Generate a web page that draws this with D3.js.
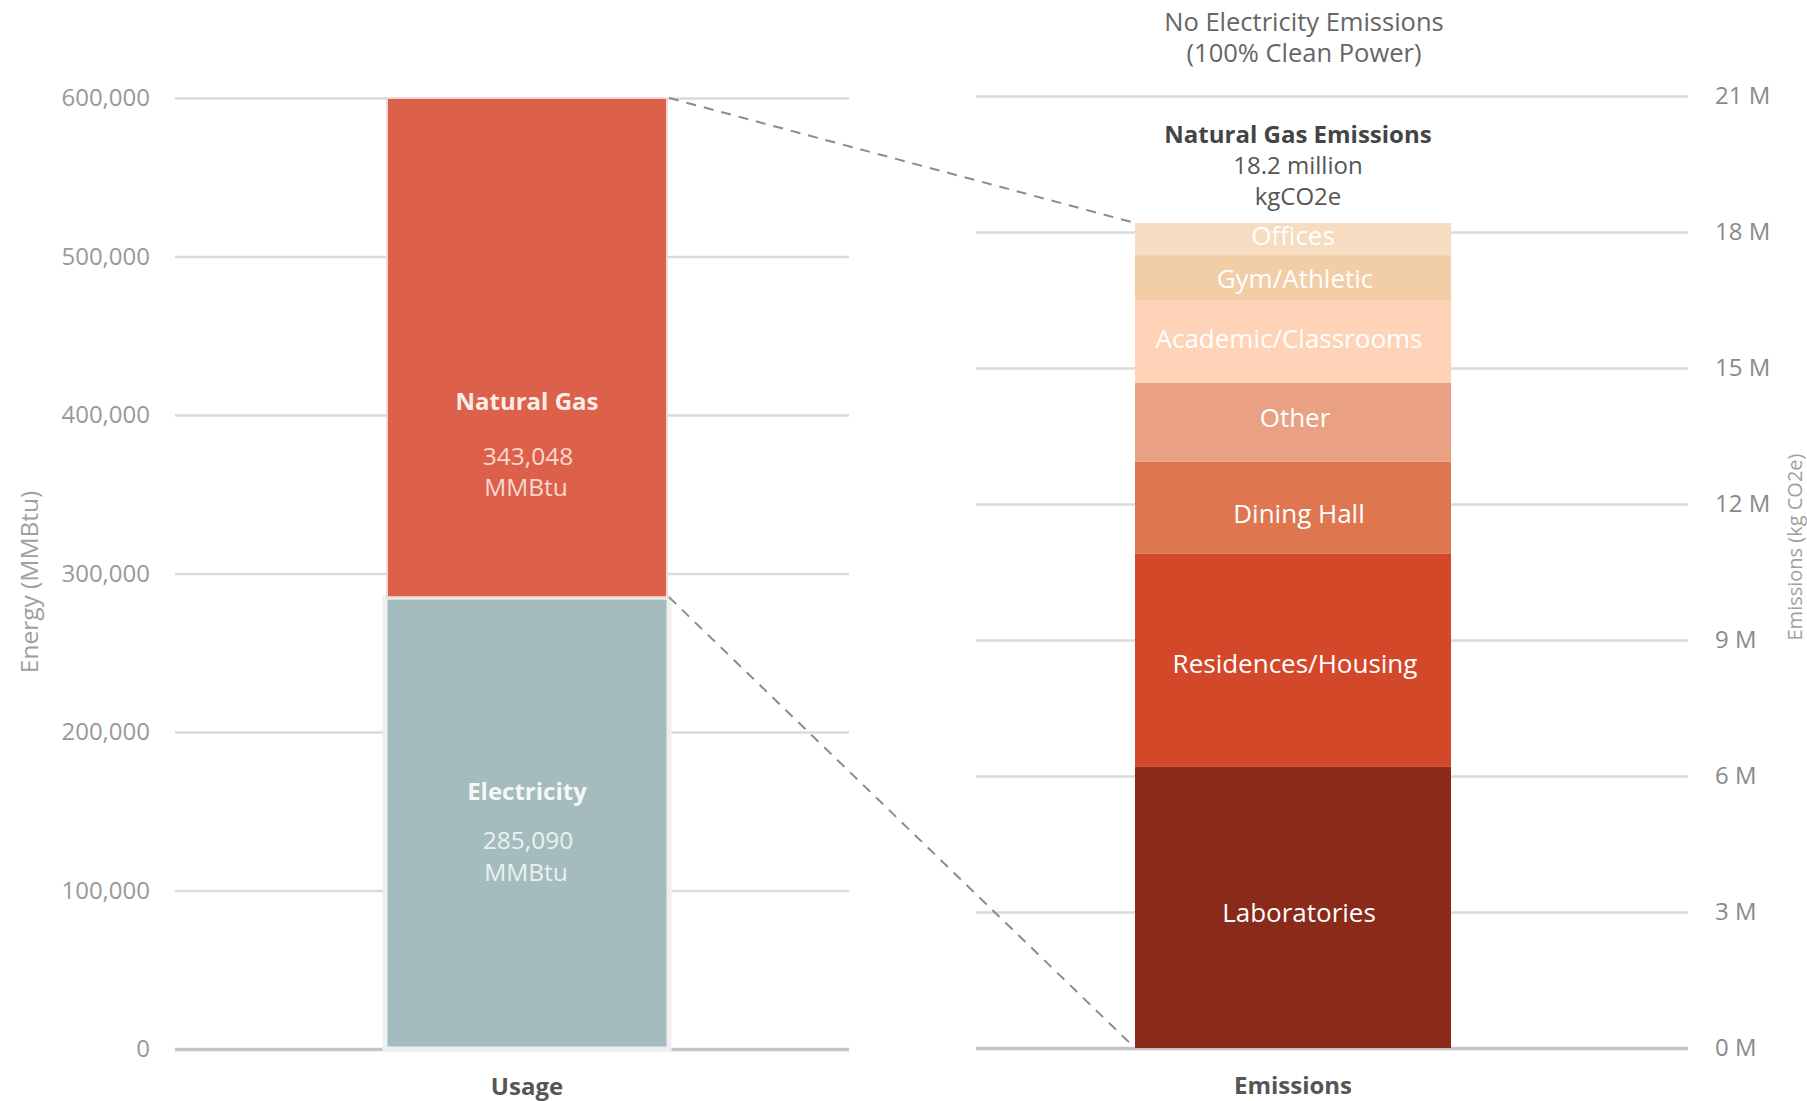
<!DOCTYPE html>
<html>
<head>
<meta charset="utf-8">
<script src="https://cdn.jsdelivr.net/npm/d3@7"></script>
<style>
  html, body { margin: 0; padding: 0; background: #fff; }
  svg { display: block; font-family: "Segoe UI", "Open Sans", sans-serif; }
</style>
</head>
<body>
<svg id="chart" width="1807" height="1101"></svg>
<script>
// ---------- data ----------
const usageCategories = ["Electricity", "Natural Gas"];
const usageValues = [285090, 343048];
const usageUnit = "MMBtu";
const energyTicks = [0, 100000, 200000, 300000, 400000, 500000, 600000];

const emissionCategories = ["Laboratories", "Residences/Housing", "Dining Hall", "Other",
  "Academic/Classrooms", "Gym/Athletic", "Offices"];
const emissionValues = [6200000, 4700000, 2030000, 1740000, 1830000, 990000, 710000];
const emissionTicks = [0, 3e6, 6e6, 9e6, 12e6, 15e6, 18e6, 21e6];
const electricityEmissionNote = ["No Electricity Emissions", "(100% Clean Power)"];
const gasEmissionTitle = "Natural Gas Emissions";

// ---------- styles ----------
const usageColors = { "Electricity": "#a4bcbd", "Natural Gas": "#dc604a" };
const emissionColors = ["#892a1b", "#d4482a", "#de7650", "#eaa082", "#fed3b8", "#f1cea5", "#f6dcc0"];
const emLabelShift = { "Laboratories": [6, 5], "Residences/Housing": [2, 3], "Dining Hall": [6, 6],
  "Other": [2, -5], "Academic/Classrooms": [-4, -3], "Gym/Athletic": [2, 1], "Offices": [0, -3] };

const svg = d3.select("#chart");
const FONT = 24;

// ---------- scales ----------
const yLeft = d3.scaleLinear().domain([0, 600000]).range([1049, 98]).clamp(true);
const yRight = d3.scaleLinear().domain([0, 21e6]).range([1048, 96]);
const xLeft = d3.scaleBand().domain(["Usage"]).range([190, 864]).paddingInner(0).paddingOuter(0.7036);
const xRight = d3.scaleBand().domain(["Emissions"]).range([976, 1610]).paddingInner(0).paddingOuter(0.5032);

// ---------- left axis / grid ----------
const gridL0 = 175, gridL1 = 849;
const axL = svg.append("g").attr("transform", `translate(${gridL0},0)`)
  .call(d3.axisLeft(yLeft).tickValues(energyTicks).tickFormat(d3.format(","))
    .tickSize(-(gridL1 - gridL0)).tickPadding(25));
axL.select(".domain").remove();
axL.selectAll(".tick line").attr("stroke", d => d === 0 ? "#c4c4c4" : "#dadada").attr("stroke-width", d => d === 0 ? 3.5 : 2.5);
axL.selectAll(".tick text").attr("fill", "#999").attr("font-size", FONT).attr("font-family", "'Segoe UI','Open Sans',sans-serif");

// ---------- right axis / grid ----------
const gridR0 = 976, gridR1 = 1688;
const axR = svg.append("g").attr("transform", `translate(${gridR1},0)`)
  .call(d3.axisRight(yRight).tickValues(emissionTicks).tickFormat(d => (d / 1e6) + " M")
    .tickSize(-(gridR1 - gridR0)).tickPadding(27));
axR.select(".domain").remove();
axR.selectAll(".tick line").attr("stroke", d => d === 0 ? "#c4c4c4" : "#dadada").attr("stroke-width", d => d === 0 ? 3.5 : 2.5);
axR.selectAll(".tick text").attr("fill", "#8a8a8a").attr("font-size", FONT).attr("font-family", "'Segoe UI','Open Sans',sans-serif");

// ---------- left stacked bar ----------
let acc = 0;
const usageStack = usageCategories.map((c, i) => {
  const s = { cat: c, v: usageValues[i], y0: acc, y1: acc + usageValues[i] };
  acc += usageValues[i];
  return s;
});
const bx = xLeft("Usage"), bw = xLeft.bandwidth();
svg.append("g").selectAll("rect").data(usageStack).join("rect")
  .attr("x", d => d.cat === "Electricity" ? bx - 2 : bx)
  .attr("width", d => d.cat === "Electricity" ? bw + 4 : bw)
  .attr("y", d => yLeft(d.y1))
  .attr("height", d => yLeft(d.y0) - yLeft(d.y1))
  .attr("fill", d => usageColors[d.cat])
  .attr("stroke", d => d.cat === "Electricity" ? "#eef0f0" : "#ead9d4")
  .attr("stroke-width", d => d.cat === "Electricity" ? 5 : 2);

// left bar labels
const gasSeg = usageStack[1], elecSeg = usageStack[0];
const cx = bx + bw / 2;
function barLabel(seg, yName, dv, du, nameFill, valFill) {
  const g = svg.append("g").attr("text-anchor", "middle").attr("font-size", FONT);
  g.append("text").attr("x", cx).attr("y", yName).attr("dy", "0.35em")
    .attr("font-weight", "bold").attr("fill", nameFill).text(seg.cat);
  g.append("text").attr("x", cx + 1).attr("y", yName + dv).attr("dy", "0.35em")
    .attr("font-size", 24.5).attr("fill", valFill).text(d3.format(",")(seg.v));
  g.append("text").attr("x", cx - 1).attr("y", yName + du).attr("dy", "0.35em")
    .attr("font-size", 24.5).attr("fill", valFill).text(usageUnit);
}
barLabel(gasSeg, yLeft(gasSeg.y0) - 196, 55, 86, "#fbeee9", "#f9d8ce");
barLabel(elecSeg, yLeft(elecSeg.y1) + 194, 49, 81, "#f4f8f8", "#eaf1f1");

// ---------- right stacked bar ----------
acc = 0;
const emStack = emissionCategories.map((c, i) => {
  const s = { cat: c, v: emissionValues[i], y0: acc, y1: acc + emissionValues[i], color: emissionColors[i] };
  acc += emissionValues[i];
  return s;
});
const total = acc;
const rx = xRight("Emissions"), rw = xRight.bandwidth();
svg.append("g").selectAll("rect").data(emStack).join("rect")
  .attr("x", rx).attr("width", rw)
  .attr("y", d => yRight(d.y1))
  .attr("height", d => yRight(d.y0) - yRight(d.y1))
  .attr("fill", d => d.color);
svg.append("g").attr("text-anchor", "middle").attr("font-size", 26).attr("fill", "#fff")
  .selectAll("text").data(emStack).join("text")
  .attr("x", d => rx + rw / 2 + emLabelShift[d.cat][0])
  .attr("y", d => (yRight(d.y0) + yRight(d.y1)) / 2 + emLabelShift[d.cat][1])
  .attr("dy", "0.35em")
  .text(d => d.cat);

// ---------- connectors ----------
const conn = svg.append("g").attr("stroke", "#8c8c8c").attr("stroke-width", 2).attr("stroke-dasharray", "10,8").attr("fill", "none");
conn.append("line")
  .attr("x1", bx + bw + 2).attr("y1", yLeft(gasSeg.y1))
  .attr("x2", rx).attr("y2", yRight(total));
conn.append("line")
  .attr("x1", bx + bw + 2).attr("y1", yLeft(elecSeg.y1))
  .attr("x2", rx).attr("y2", yRight(0));

// ---------- emission annotations ----------
const rcx = rx + rw / 2 + 5;
const ann = svg.append("g").attr("text-anchor", "middle").attr("font-size", FONT);
ann.append("text").attr("x", rcx + 6).attr("y", 22).attr("dy", "0.35em").attr("font-size", 25.5).attr("fill", "#666").text(electricityEmissionNote[0]);
ann.append("text").attr("x", rcx + 6).attr("y", 53).attr("dy", "0.35em").attr("font-size", 25.5).attr("fill", "#666").text(electricityEmissionNote[1]);
ann.append("text").attr("x", rcx).attr("y", yRight(total) - 88).attr("dy", "0.35em")
  .attr("font-weight", "bold").attr("fill", "#444").text(gasEmissionTitle);
ann.append("text").attr("x", rcx).attr("y", yRight(total) - 57).attr("dy", "0.35em")
  .attr("fill", "#555").text(d3.format(".1f")(total / 1e6) + " million");
ann.append("text").attr("x", rcx).attr("y", yRight(total) - 26).attr("dy", "0.35em")
  .attr("fill", "#555").text("kgCO2e");

// ---------- axis titles ----------
svg.append("text").attr("text-anchor", "middle").attr("font-size", FONT).attr("font-weight", "bold")
  .attr("fill", "#555").attr("x", cx).attr("y", 1087).attr("dy", "0.35em").text("Usage");
svg.append("text").attr("text-anchor", "middle").attr("font-size", FONT).attr("font-weight", "bold")
  .attr("fill", "#555").attr("x", rx + rw / 2).attr("y", 1086).attr("dy", "0.35em").text("Emissions");
svg.append("text").attr("text-anchor", "middle").attr("font-size", 24.5).attr("fill", "#a0a0a0")
  .attr("transform", "translate(29,582) rotate(-90)").attr("dy", "0.35em").text("Energy (MMBtu)");
svg.append("text").attr("text-anchor", "middle").attr("font-size", 20).attr("fill", "#a0a0a0")
  .attr("transform", "translate(1795,547) rotate(-90)").attr("dy", "0.35em").text("Emissions (kg CO2e)");
</script>
</body>
</html>
